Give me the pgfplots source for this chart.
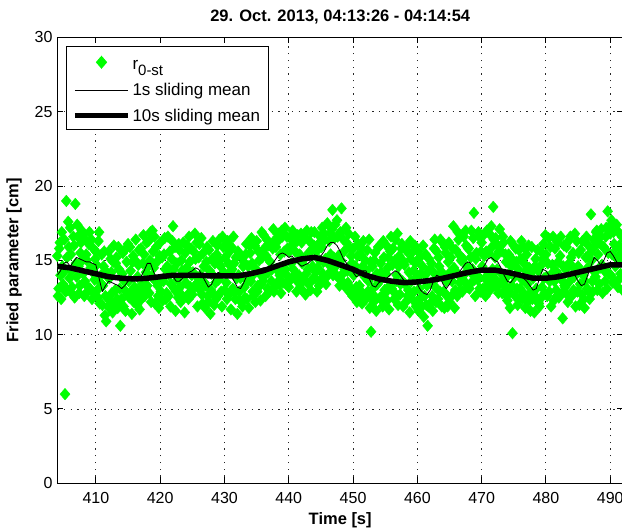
\documentclass[border=0pt]{standalone}
\usepackage{pgfplots}
\pgfplotsset{compat=1.18}
\usepackage{fontspec}
\setmainfont{Liberation Sans}
\definecolor{mgreen}{rgb}{0,1,0}
\pgfplotsset{
  legline/.style={legend image code/.code={\draw[##1] (0pt,0pt) -- (53pt,0pt);}},
  legthick/.style={legend image code/.code={\draw[##1, line width=5pt] (0pt,0pt) -- (53pt,0pt);}},
  legmark/.style={legend image code/.code={\draw[mark repeat=2, mark phase=2, ##1] plot coordinates {(0pt,0pt)(26.5pt,0pt)(53pt,0pt)};}},
  gmark/.style={only marks, mark=diamond*, mark size=5.8pt, mark options={xscale=1.15, fill=mgreen, draw=mgreen}},
}
\begin{document}
\begin{tikzpicture}
\begin{axis}[
  scale only axis,
  width=565.8pt, height=445.8pt,
  xmin=404, xmax=492, ymin=0, ymax=30,
  xtick={410,420,...,490}, ytick={0,5,...,30},
  tick align=inside,
  major tick length=6pt,
  grid=major,
  grid style={black!85, line width=0.9pt, dash pattern=on 1.3pt off 5.4pt},
  axis line style={line width=1pt},
  every tick/.style={black, line width=1pt},
  /pgf/number format/assume math mode=true,
  tick label style={font=\fontsize{16}{16}\selectfont},
  xticklabel style={yshift=-5pt},
  yticklabel style={xshift=-1.3pt},
  xlabel={Time [s]}, ylabel={Fried parameter [cm]},
  label style={font=\fontsize{16.5}{18}\selectfont\bfseries},
  xlabel style={at={(rel axis cs:0.5,0)}, anchor=base, yshift=-41pt},
  ylabel style={at={(rel axis cs:0,0.5)}, anchor=base, yshift=39pt},
  title={29. Oct. 2013, 04:13:26 - 04:14:54},
  title style={font=\fontsize{16.5}{18}\selectfont\bfseries, at={(rel axis cs:0.5,1)}, anchor=base, yshift=9.5pt},
  clip mode=individual,
  legend cell align=left,
  legend style={at={(0,1)}, anchor=north west, xshift=8.7pt, yshift=-8.5pt,
    draw=black, line width=1pt, fill=white, inner xsep=6pt, inner ysep=5pt,
    row sep=8pt, font=\fontsize{17}{19}\selectfont},
]
\coordinate (ll) at (rel axis cs:0,0);
\coordinate (ur) at (rel axis cs:1,1);
\addplot[gmark, legmark]
coordinates {
(404.0,15.3)(404.2,13.1)(404.4,16.2)(404.6,12.4)(404.8,14.6)
(405.0,14.2)(405.2,6.0)(405.4,19.0)(405.6,13.0)(405.8,15.9)
(406.0,17.2)(406.2,14.3)(406.4,12.7)(406.6,16.0)(406.8,18.8)
(407.0,13.9)(407.2,16.6)(407.4,12.8)(407.6,15.5)(407.8,17.0)
(408.0,14.1)(408.2,12.6)(408.4,16.4)(408.6,15.0)(408.8,13.2)
(409.0,16.9)(409.2,14.5)(409.4,12.4)(409.6,15.8)(409.8,13.7)
(410.0,15.6)(410.2,13.0)(410.4,16.3)(410.6,12.1)(410.8,14.0)
(411.0,12.0)(411.2,14.6)(411.4,11.3)(411.6,10.9)(411.8,13.9)
(412.0,15.6)(412.2,12.3)(412.4,14.2)(412.6,11.5)(412.8,16.0)
(413.0,13.0)(413.2,15.2)(413.4,11.8)(413.6,14.4)(413.8,10.6)
(414.0,12.4)(414.2,15.5)(414.4,13.6)(414.6,11.6)(414.8,14.9)
(415.0,16.1)(415.2,12.5)(415.4,14.3)(415.6,11.4)(415.8,15.3)
(416.0,13.2)(416.2,16.4)(416.4,12.0)(416.6,14.7)(416.8,11.7)
(417.0,15.8)(417.2,13.4)(417.4,16.7)(417.6,12.6)(417.8,14.2)
(418.0,13.3)(418.2,16.3)(418.4,15.0)(418.6,12.2)(418.8,17.0)
(419.0,14.5)(419.2,12.1)(419.4,15.9)(419.6,13.3)(419.8,11.8)
(420.0,16.2)(420.2,13.7)(420.4,12.3)(420.6,15.4)(420.8,14.4)
(421.0,12.8)(421.2,16.6)(421.4,14.0)(421.6,11.9)(421.8,15.1)
(422.0,17.3)(422.2,13.1)(422.4,11.6)(422.6,14.8)(422.8,12.5)
(423.0,15.7)(423.2,12.2)(423.4,14.3)(423.6,16.2)(423.8,11.5)
(424.0,13.5)(424.2,16.0)(424.4,12.4)(424.6,14.9)(424.8,15.8)
(425.0,12.7)(425.2,15.6)(425.4,16.8)(425.6,13.4)(425.8,11.9)
(426.0,15.2)(426.2,13.0)(426.4,16.5)(426.6,12.1)(426.8,14.6)
(427.0,11.8)(427.2,14.9)(427.4,12.6)(427.6,15.7)(427.8,11.4)
(428.0,14.1)(428.2,16.3)(428.4,12.0)(428.6,13.5)(428.8,15.4)
(429.0,12.6)(429.2,16.4)(429.4,14.6)(429.6,11.9)(429.8,15.9)
(430.0,13.0)(430.2,16.0)(430.4,12.4)(430.6,14.8)(430.8,15.6)
(431.0,11.7)(431.2,14.4)(431.4,16.6)(431.6,12.9)(431.8,15.2)
(432.0,11.4)(432.2,14.0)(432.4,12.3)(432.6,15.3)(432.8,11.9)
(433.0,14.9)(433.2,12.5)(433.4,16.1)(433.6,13.6)(433.8,11.8)
(434.0,15.5)(434.2,16.5)(434.4,12.9)(434.6,14.1)(434.8,12.2)
(435.0,16.3)(435.2,13.3)(435.4,15.0)(435.6,12.3)(435.8,16.9)
(436.0,13.6)(436.2,15.8)(436.4,12.6)(436.6,16.4)(436.8,14.2)
(437.0,12.9)(437.2,16.0)(437.4,14.4)(437.6,17.1)(437.8,13.2)
(438.0,15.9)(438.2,13.5)(438.4,16.8)(438.6,14.0)(438.8,12.8)
(439.0,16.6)(439.2,14.3)(439.4,17.2)(439.6,13.4)(439.8,15.8)
(440.0,13.2)(440.2,16.5)(440.4,14.8)(440.6,17.0)(440.8,13.9)
(441.0,15.6)(441.2,12.9)(441.4,16.7)(441.6,14.0)(441.8,13.1)
(442.0,16.2)(442.2,13.6)(442.4,15.1)(442.6,12.7)(442.8,17.0)
(443.0,14.4)(443.2,16.3)(443.4,13.0)(443.6,15.7)(443.8,13.8)
(444.0,16.9)(444.2,14.2)(444.4,12.9)(444.6,16.1)(444.8,15.0)
(445.0,13.7)(445.2,17.2)(445.4,14.9)(445.6,16.4)(445.8,13.4)
(446.0,17.5)(446.2,15.0)(446.4,16.8)(446.6,14.3)(446.8,18.4)
(447.0,15.2)(447.2,17.4)(447.4,14.0)(447.6,16.6)(447.8,13.8)
(448.0,16.9)(448.2,18.5)(448.4,14.1)(448.6,15.6)(448.8,13.2)
(449.0,16.2)(449.2,13.5)(449.4,15.9)(449.6,12.8)(449.8,14.8)
(450.0,15.8)(450.2,12.7)(450.4,14.6)(450.6,12.2)(450.8,16.1)
(451.0,13.3)(451.2,15.4)(451.4,12.1)(451.6,16.3)(451.8,13.9)
(452.0,12.4)(452.2,15.7)(452.4,13.6)(452.6,11.8)(452.8,10.2)
(453.0,14.6)(453.2,12.2)(453.4,15.5)(453.6,11.6)(453.8,13.4)
(454.0,15.9)(454.2,12.5)(454.4,14.2)(454.6,11.9)(454.8,15.2)
(455.0,12.8)(455.2,16.0)(455.4,14.5)(455.6,11.7)(455.8,15.6)
(456.0,13.1)(456.2,15.8)(456.4,12.4)(456.6,16.4)(456.8,14.0)
(457.0,12.0)(457.2,15.3)(457.4,13.4)(457.6,16.1)(457.8,11.9)
(458.0,14.7)(458.2,12.2)(458.4,15.6)(458.6,13.0)(458.8,11.5)
(459.0,15.1)(459.2,12.4)(459.4,14.3)(459.6,16.0)(459.8,11.9)
(460.0,13.9)(460.2,11.6)(460.4,15.2)(460.6,12.5)(460.8,14.6)
(461.0,11.2)(461.2,14.0)(461.4,12.0)(461.6,10.6)(461.8,15.1)
(462.0,12.1)(462.2,14.8)(462.4,11.6)(462.6,15.8)(462.8,13.2)
(463.0,15.6)(463.2,12.4)(463.4,14.6)(463.6,16.4)(463.8,11.9)
(464.0,14.1)(464.2,11.8)(464.4,15.5)(464.6,12.6)(464.8,14.9)
(465.0,12.2)(465.2,15.2)(465.4,13.6)(465.6,17.3)(465.8,11.8)
(466.0,15.7)(466.2,12.6)(466.4,16.4)(466.6,13.5)(466.8,15.0)
(467.0,12.9)(467.2,16.6)(467.4,14.1)(467.6,16.0)(467.8,13.2)
(468.0,15.8)(468.2,13.4)(468.4,17.0)(468.6,14.4)(468.8,18.2)
(469.0,12.6)(469.2,15.5)(469.4,13.7)(469.6,16.6)(469.8,12.9)
(470.0,16.2)(470.2,13.1)(470.4,15.3)(470.6,12.6)(470.8,17.0)
(471.0,14.0)(471.2,16.8)(471.4,13.5)(471.6,15.9)(471.8,18.6)
(472.0,13.8)(472.2,16.5)(472.4,14.4)(472.6,12.8)(472.8,17.1)
(473.0,15.6)(473.2,12.8)(473.4,16.2)(473.6,13.3)(473.8,14.9)
(474.0,12.3)(474.2,15.4)(474.4,11.8)(474.6,14.6)(474.8,10.1)
(475.0,16.0)(475.2,12.6)(475.4,14.9)(475.6,12.0)(475.8,15.7)
(476.0,13.1)(476.2,16.3)(476.4,12.4)(476.6,14.8)(476.8,11.8)
(477.0,15.4)(477.2,12.2)(477.4,14.5)(477.6,11.6)(477.8,15.9)
(478.0,13.8)(478.2,11.5)(478.4,15.1)(478.6,12.4)(478.8,14.3)
(479.0,11.9)(479.2,15.6)(479.4,13.2)(479.6,16.1)(479.8,12.8)
(480.0,15.4)(480.2,12.6)(480.4,16.5)(480.6,13.6)(480.8,11.9)
(481.0,14.7)(481.2,12.3)(481.4,15.8)(481.6,13.0)(481.8,16.2)
(482.0,12.5)(482.2,15.3)(482.4,13.7)(482.6,11.1)(482.8,16.0)
(483.0,13.2)(483.2,15.9)(483.4,12.2)(483.6,14.8)(483.8,16.6)
(484.0,12.6)(484.2,15.5)(484.4,13.9)(484.6,11.9)(484.8,16.3)
(485.0,14.6)(485.2,12.0)(485.4,15.7)(485.6,12.7)(485.8,14.0)
(486.0,11.8)(486.2,15.2)(486.4,13.1)(486.6,16.0)(486.8,12.4)
(487.0,18.1)(487.2,13.6)(487.4,16.4)(487.6,14.2)(487.8,16.9)
(488.0,13.0)(488.2,16.2)(488.4,14.5)(488.6,17.1)(488.8,12.8)
(489.0,15.9)(489.2,13.6)(489.4,17.2)(489.6,18.3)(489.8,14.1)
(490.0,16.8)(490.2,17.7)(490.4,13.5)(490.6,16.1)(490.8,14.6)
(491.0,17.4)(491.2,13.2)(491.4,16.0)(491.6,14.1)(491.8,16.6)
(492.0,14.9)
};
\addlegendentry{r\raisebox{-6pt}{\fontsize{15}{15}\selectfont 0-st}\rule{0pt}{16pt}}
\addplot[gmark, forget plot]
coordinates {
(404.1,12.6)(404.3,15.8)(404.5,14.0)(404.7,16.9)(404.9,13.4)
(405.1,16.4)(405.3,12.9)(405.5,15.2)(405.7,17.6)(405.9,13.8)
(406.1,15.4)(406.3,13.2)(406.5,16.6)(406.7,12.5)(406.9,14.8)
(407.1,17.4)(407.3,14.6)(407.5,13.3)(407.7,16.2)(407.9,15.0)
(408.1,16.8)(408.3,13.6)(408.5,15.4)(408.7,12.9)(408.9,16.1)
(409.1,13.1)(409.3,16.4)(409.5,14.2)(409.7,12.8)(409.9,15.1)
(410.1,14.7)(410.3,12.5)(410.5,16.9)(410.7,13.5)(410.9,15.4)
(411.1,13.3)(411.3,15.6)(411.5,12.6)(411.7,14.2)(411.9,11.9)
(412.1,13.8)(412.3,15.1)(412.5,12.8)(412.7,14.9)(412.9,12.1)
(413.1,14.8)(413.3,12.4)(413.5,15.9)(413.7,13.1)(413.9,12.0)
(414.1,14.1)(414.3,11.9)(414.5,13.0)(414.7,15.8)(414.9,12.7)
(415.1,13.6)(415.3,15.9)(415.5,12.9)(415.7,14.9)(415.9,12.2)
(416.1,15.0)(416.3,12.6)(416.5,13.9)(416.7,15.7)(416.9,13.0)
(417.1,12.4)(417.3,14.8)(417.5,15.4)(417.7,13.2)(417.9,16.2)
(418.1,14.6)(418.3,12.8)(418.5,16.9)(418.7,13.9)(418.9,15.6)
(419.1,16.6)(419.3,13.6)(419.5,14.9)(419.7,12.6)(419.9,15.3)
(420.1,12.9)(420.3,15.2)(420.5,13.6)(420.7,16.5)(420.9,12.4)
(421.1,14.6)(421.3,12.6)(421.5,15.6)(421.7,13.4)(421.9,16.3)
(422.1,14.4)(422.3,15.9)(422.5,12.9)(422.7,13.7)(422.9,16.1)
(423.1,13.2)(423.3,15.0)(423.5,12.6)(423.7,14.1)(423.9,15.5)
(424.1,14.5)(424.3,12.7)(424.5,16.6)(424.7,13.2)(424.9,14.0)
(425.1,14.2)(425.3,13.2)(425.5,15.1)(425.7,16.2)(425.9,13.8)
(426.1,16.1)(426.3,14.0)(426.5,12.7)(426.7,15.5)(426.9,13.5)
(427.1,13.3)(427.3,15.9)(427.5,12.2)(427.7,14.3)(427.9,13.0)
(428.1,15.1)(428.3,12.7)(428.5,14.8)(428.7,12.4)(428.9,16.0)
(429.1,13.7)(429.3,15.0)(429.5,12.9)(429.7,16.6)(429.9,14.2)
(430.1,15.2)(430.3,13.5)(430.5,16.3)(430.7,12.7)(430.9,14.2)
(431.1,15.9)(431.3,13.1)(431.5,14.8)(431.7,12.4)(431.9,13.8)
(432.1,15.6)(432.3,12.9)(432.5,13.8)(432.7,12.2)(432.9,14.6)
(433.1,13.2)(433.3,15.4)(433.5,12.4)(433.7,14.6)(433.9,16.0)
(434.1,13.6)(434.3,14.8)(434.5,12.6)(434.7,16.0)(434.9,14.4)
(435.1,12.9)(435.3,15.6)(435.5,14.1)(435.7,13.4)(435.9,15.2)
(436.1,16.7)(436.3,14.0)(436.5,15.3)(436.7,13.1)(436.9,16.0)
(437.1,14.9)(437.3,13.6)(437.5,15.8)(437.7,12.9)(437.9,16.4)
(438.1,14.4)(438.3,16.3)(438.5,13.4)(438.7,15.4)(438.9,17.0)
(439.1,13.5)(439.3,15.6)(439.5,14.4)(439.7,16.6)(439.9,13.9)
(440.1,15.6)(440.3,13.7)(440.5,16.0)(440.7,14.4)(440.9,16.8)
(441.1,14.1)(441.3,16.3)(441.5,13.5)(441.7,15.4)(441.9,16.8)
(442.1,14.8)(442.3,12.9)(442.5,16.6)(442.7,14.1)(442.9,13.5)
(443.1,15.5)(443.3,13.5)(443.5,16.9)(443.7,14.6)(443.9,16.0)
(444.1,13.8)(444.3,15.6)(444.5,14.5)(444.7,13.3)(444.9,16.6)
(445.1,15.9)(445.3,14.1)(445.5,16.8)(445.7,15.1)(445.9,13.9)
(446.1,14.8)(446.3,16.3)(446.5,15.4)(446.7,17.1)(446.9,14.0)
(447.1,16.5)(447.3,14.6)(447.5,17.7)(447.7,15.3)(447.9,13.3)
(448.1,15.0)(448.3,13.6)(448.5,16.4)(448.7,14.4)(448.9,17.2)
(449.1,14.3)(449.3,16.8)(449.5,13.2)(449.7,15.3)(449.9,12.6)
(450.1,14.0)(450.3,16.6)(450.5,13.2)(450.7,15.3)(450.9,12.6)
(451.1,15.9)(451.3,12.9)(451.5,14.6)(451.7,12.4)(451.9,15.0)
(452.1,14.3)(452.3,12.9)(452.5,16.4)(452.7,14.9)(452.9,12.6)
(453.1,13.1)(453.3,15.0)(453.5,12.5)(453.7,14.1)(453.9,15.9)
(454.1,13.6)(454.3,14.8)(454.5,12.3)(454.7,16.3)(454.9,13.0)
(455.1,14.1)(455.3,12.3)(455.5,15.2)(455.7,13.3)(455.9,16.6)
(456.1,14.7)(456.3,12.9)(456.5,15.0)(456.7,13.6)(456.9,16.8)
(457.1,14.6)(457.3,12.7)(457.5,15.8)(457.7,13.6)(457.9,14.9)
(458.1,13.4)(458.3,15.9)(458.5,12.6)(458.7,14.2)(458.9,16.3)
(459.1,13.6)(459.3,15.6)(459.5,12.9)(459.7,14.8)(459.9,12.2)
(460.1,15.6)(460.3,13.1)(460.5,14.1)(460.7,11.9)(460.9,16.0)
(461.1,12.6)(461.3,15.4)(461.5,13.3)(461.7,11.9)(461.9,14.4)
(462.1,13.5)(462.3,12.6)(462.5,14.2)(462.7,16.4)(462.9,12.2)
(463.1,13.9)(463.3,15.2)(463.5,12.9)(463.7,14.2)(463.9,16.2)
(464.1,12.9)(464.3,15.9)(464.5,13.6)(464.7,11.9)(464.9,16.2)
(465.1,14.2)(465.3,12.6)(465.5,15.8)(465.7,14.5)(465.9,13.0)
(466.1,14.2)(466.3,16.9)(466.5,12.9)(466.7,15.3)(466.9,13.8)
(467.1,15.1)(467.3,13.6)(467.5,17.0)(467.7,14.6)(467.9,15.8)
(468.1,13.1)(468.3,15.2)(468.5,14.1)(468.7,16.5)(468.9,13.7)
(469.1,15.1)(469.3,14.0)(469.5,16.9)(469.7,13.1)(469.9,15.6)
(470.1,14.6)(470.3,16.7)(470.5,13.8)(470.7,15.6)(470.9,13.3)
(471.1,15.5)(471.3,13.0)(471.5,17.3)(471.7,14.4)(471.9,16.4)
(472.1,15.2)(472.3,13.2)(472.5,16.0)(472.7,15.6)(472.9,13.5)
(473.1,14.1)(473.3,16.6)(473.5,13.6)(473.7,15.4)(473.9,12.6)
(474.1,14.0)(474.3,12.9)(474.5,16.3)(474.7,13.3)(474.9,15.0)
(475.1,13.9)(475.3,15.8)(475.5,13.1)(475.7,14.4)(475.9,12.5)
(476.1,15.1)(476.3,13.7)(476.5,15.9)(476.7,12.7)(476.9,14.3)
(477.1,13.4)(477.3,16.0)(477.5,12.8)(477.7,14.2)(477.9,12.4)
(478.1,12.7)(478.3,14.6)(478.5,13.1)(478.7,15.7)(478.9,12.1)
(479.1,14.6)(479.3,12.5)(479.5,15.1)(479.7,13.8)(479.9,16.7)
(480.1,13.9)(480.3,14.8)(480.5,12.9)(480.7,15.9)(480.9,14.1)
(481.1,16.6)(481.3,13.6)(481.5,14.3)(481.7,12.6)(481.9,14.9)
(482.1,14.0)(482.3,16.6)(482.5,12.8)(482.7,14.6)(482.9,13.3)
(483.1,14.4)(483.3,12.7)(483.5,16.3)(483.7,13.6)(483.9,15.2)
(484.1,14.6)(484.3,13.0)(484.5,16.8)(484.7,14.2)(484.9,12.9)
(485.1,15.5)(485.3,13.4)(485.5,14.2)(485.7,16.3)(485.9,12.4)
(486.1,13.6)(486.3,16.6)(486.5,14.5)(486.7,12.9)(486.9,15.5)
(487.1,15.0)(487.3,12.9)(487.5,15.9)(487.7,13.9)(487.9,17.0)
(488.1,15.4)(488.3,13.4)(488.5,16.6)(488.7,14.7)(488.9,15.9)
(489.1,14.3)(489.3,16.6)(489.5,13.1)(489.7,15.5)(489.9,17.3)
(490.1,14.0)(490.3,15.4)(490.5,16.9)(490.7,13.6)(490.9,15.9)
(491.1,15.1)(491.3,16.9)(491.5,13.8)(491.7,15.5)(491.9,13.0)
};
\addplot[black, line width=0.8pt, line join=round, legline]
coordinates {
(404.0,14.0)(404.5,14.3)(405.0,14.8)(405.5,14.9)(406.0,14.6)(406.5,14.9)(407.0,15.2)(407.5,15.1)
(408.0,15.0)(408.5,14.9)(409.0,14.9)(409.5,14.8)(410.0,14.7)(410.5,13.8)(411.0,12.9)(411.5,13.3)
(412.0,13.6)(412.5,13.5)(413.0,13.4)(413.5,13.3)(414.0,13.1)(414.5,13.3)(415.0,13.6)(415.5,13.8)
(416.0,13.9)(416.5,13.8)(417.0,13.9)(417.5,14.3)(418.0,14.8)(418.5,14.8)(419.0,14.2)(419.5,13.8)
(420.0,14.0)(420.5,14.1)(421.0,13.9)(421.5,14.0)(422.0,13.9)(422.5,13.6)(423.0,13.6)(423.5,13.8)
(424.0,14.0)(424.5,14.2)(425.0,14.3)(425.5,14.5)(426.0,14.4)(426.5,14.0)(427.0,13.6)(427.5,13.2)
(428.0,13.4)(428.5,13.9)(429.0,14.2)(429.5,14.1)(430.0,14.0)(430.5,13.9)(431.0,14.0)(431.5,13.6)
(432.0,13.2)(432.5,13.1)(433.0,13.5)(433.5,14.0)(434.0,14.2)(434.5,14.2)(435.0,14.3)(435.5,14.4)
(436.0,14.5)(436.5,14.5)(437.0,14.6)(437.5,14.8)(438.0,15.1)(438.5,15.4)(439.0,15.5)(439.5,15.4)
(440.0,15.2)(440.5,15.3)(441.0,15.0)(441.5,14.8)(442.0,14.6)(442.5,14.7)(443.0,14.8)(443.5,15.0)
(444.0,15.1)(444.5,15.2)(445.0,15.3)(445.5,15.6)(446.0,16.0)(446.5,16.2)(447.0,16.2)(447.5,16.0)
(448.0,15.6)(448.5,15.1)(449.0,14.8)(449.5,14.6)(450.0,14.2)(450.5,13.9)(451.0,14.0)(451.5,14.3)
(452.0,14.3)(452.5,13.8)(453.0,13.3)(453.5,13.2)(454.0,13.5)(454.5,13.6)(455.0,13.7)(455.5,13.9)
(456.0,14.1)(456.5,14.3)(457.0,14.2)(457.5,13.9)(458.0,13.6)(458.5,13.4)(459.0,13.5)(459.5,13.6)
(460.0,13.4)(460.5,13.0)(461.0,12.8)(461.5,12.7)(462.0,13.0)(462.5,13.6)(463.0,14.0)(463.5,13.9)
(464.0,13.4)(464.5,13.1)(465.0,13.4)(465.5,13.8)(466.0,14.0)(466.5,14.2)(467.0,14.5)(467.5,14.8)
(468.0,14.9)(468.5,14.7)(469.0,14.3)(469.5,14.2)(470.0,14.4)(470.5,14.7)(471.0,15.1)(471.5,15.2)
(472.0,15.0)(472.5,14.9)(473.0,14.5)(473.5,14.0)(474.0,13.6)(474.5,13.5)(475.0,13.8)(475.5,14.0)
(476.0,14.0)(476.5,13.8)(477.0,13.6)(477.5,13.3)(478.0,13.0)(478.5,13.1)(479.0,13.8)(479.5,14.4)
(480.0,14.3)(480.5,14.0)(481.0,13.9)(481.5,14.0)(482.0,14.1)(482.5,14.0)(483.0,14.0)(483.5,14.1)
(484.0,14.2)(484.5,14.0)(485.0,13.6)(485.5,13.3)(486.0,13.4)(486.5,14.0)(487.0,14.6)(487.5,15.2)
(488.0,15.0)(488.5,14.7)(489.0,15.0)(489.5,15.5)(490.0,15.6)(490.5,15.3)(491.0,14.9)(491.5,14.7)
(492.0,14.6)
};
\addlegendentry{1s sliding mean}
\addplot[black, line width=5.5pt, line join=round, legthick]
coordinates {
(404,14.6)(406,14.5)(408,14.3)(410,14.1)(412,13.9)(414,13.8)(416,13.75)(418,13.8)
(420,13.9)(422,14.0)(424,14.0)(426,14.0)(428,13.95)(430,13.95)(432,13.95)(434,14.1)
(436,14.3)(438,14.6)(440,14.9)(442,15.1)(444,15.2)(446,15.0)(448,14.7)(450,14.4)
(452,14.0)(454,13.75)(456,13.6)(458,13.5)(460,13.55)(462,13.65)(464,13.8)(466,14.0)
(468,14.2)(470,14.35)(472,14.35)(474,14.2)(476,14.0)(478,13.8)(480,13.8)(482,13.9)
(484,14.1)(486,14.3)(488,14.5)(490,14.7)(492,14.7)
};
\addlegendentry{10s sliding mean}
\end{axis}
\pgfresetboundingbox
\path ([xshift=-57.3pt,yshift=-47.7pt]ll) rectangle ([xshift=-1.1pt,yshift=37.5pt]ur);
\end{tikzpicture}
\end{document}
